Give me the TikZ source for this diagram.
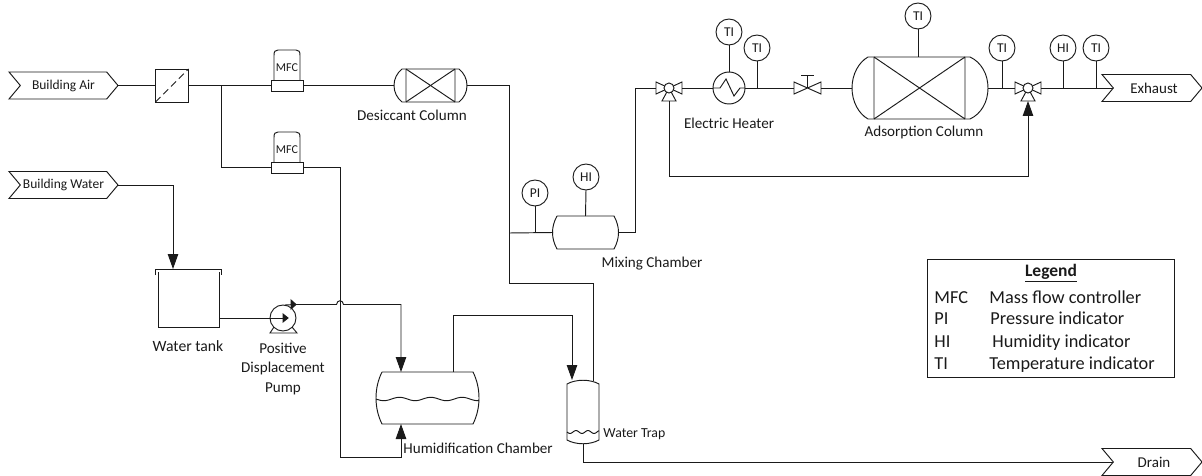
\documentclass[tikz,border=0pt]{standalone}
\usepackage{fontspec}
\setmainfont{Carlito}
\usetikzlibrary{arrows.meta,shapes.symbols}
\definecolor{ink}{HTML}{1A1A1A}
\tikzset{
  x=1pt,y=-1pt,
  every path/.style={line width=0.95pt},
  lbl/.style={text=ink,font=\fontsize{15.1}{17}\selectfont,inner sep=0pt,align=center},
  leg/.style={text=ink,font=\fontsize{18.3}{20}\selectfont,inner sep=0pt,anchor=base west},
  tagbox/.style={draw,shape=signal,signal to=east,signal from=west,signal pointer angle=100,inner sep=0pt,outer sep=0pt,minimum height=27,text=ink,font=\fontsize{13.5}{15}\selectfont},
  inst/.style={draw,circle,fill=white,minimum size=26,inner sep=0pt,outer sep=0pt,text=ink,font=\fontsize{13.5}{15}\selectfont},
  equip/.style={rectangle,inner sep=0pt,outer sep=0pt},
  flow/.style={-{Triangle[length=15,width=10.5]}},
  threeway/.pic={
    \draw (0,0)--(-13,-6)--(-13,6)--cycle;
    \draw (0,0)--(13,-6)--(13,6)--cycle;
    \draw (0,0)--(-7,13)--(7,13)--cycle;
    \draw[fill=white] (0,0) circle[radius=5];
    \coordinate (-w) at (-13,0);
    \coordinate (-e) at (13,0);
    \coordinate (-s) at (0,13);
  },
  mfcunit/.pic={
    \draw (-13,-5.5)--(-13,-30) .. controls (-13,-34) and (-12,-35.5) .. (-9,-35.5)--(9,-35.5) .. controls (12,-35.5) and (13,-34) .. (13,-30)--(13,-5.5);
    \node[equip,draw,fill=white,minimum width=32,minimum height=11] (-base) at (0,0) {};
    \node[lbl,font=\fontsize{12}{14}\selectfont] at (0,-18) {MFC};
  },
}
\begin{document}
\begin{tikzpicture}[color=ink]
\useasboundingbox (0,0) rectangle (1202,476);
% terminals
\node[tagbox,minimum width=109] (bair) at (63.5,85.5) {Building Air};
\node[tagbox,minimum width=109] (bwat) at (63.5,185) {Building Water};
\node[tagbox,minimum width=100,font=\fontsize{15}{17}\selectfont] (exh) at (1152,88) {\hspace{4pt}Exhaust};
\node[tagbox,minimum width=100,font=\fontsize{15}{17}\selectfont] (drn) at (1152,462) {\hspace{4pt}Drain};
% filter
\node[equip,draw,minimum size=33] (filt) at (172,85.5) {};
\draw[dash pattern=on 7pt off 4pt] (filt.south west)--(filt.north east);
% MFCs
\pic (mfca) at (287,85.5) {mfcunit};
\pic (mfcb) at (287,167.5) {mfcunit};
% desiccant column
\node[equip,minimum width=73,minimum height=33] (desc) at (430.5,85.5) {};
\node[lbl] at (412,115) {Desiccant Column};
\draw (402,69)--(459,69) .. controls (464,73) and (467,79) .. (467,85.5) .. controls (467,92) and (464,98) .. (459,102)--(402,102) .. controls (397,98) and (394,92) .. (394,85.5) .. controls (394,79) and (397,73) .. (402,69);
\draw (406,69)--(406,102) (455,69)--(455,102) (406,69)--(455,102) (406,102)--(455,69);
% mixing chamber
\node[equip,minimum width=65,minimum height=33] (mix) at (585.5,232.5) {};
\draw (557,216)--(614,216) .. controls (620,227) and (620,238) .. (614,249)--(557,249) .. controls (551,238) and (551,227) .. (557,216);
\node[lbl] at (652,264) {Mixing Chamber};
% instruments
\node[inst] (pi) at (535,193) {PI};
\node[inst] (hi) at (586,177) {HI};
\node[inst] (tia) at (729,32) {TI};
\node[inst] (tib) at (757,48) {TI};
\node[inst] (tic) at (918,16) {TI};
\node[inst] (tid) at (1002,48) {TI};
\node[inst] (hib) at (1063,48) {HI};
\node[inst] (tie) at (1096,48) {TI};
% valves
\pic (va) at (669,88) {threeway};
\pic (vb) at (1028,88) {threeway};
\node[equip,minimum width=27,minimum height=12] (gate) at (807.5,88) {};
\draw (807.5,88)--(794,82)--(794,94)--cycle (807.5,88)--(821,82)--(821,94)--cycle;
\draw (807.5,88)--(807.5,75) (801,75)--(814,75);
% heater
\node[inst,minimum size=32] (heat) at (729,88) {};
\draw (713,88)--(720,88)--(726,79)--(734,96)--(740,88)--(745,88);
\node[lbl] at (729,123) {Electric Heater};
% adsorption column
\node[equip,minimum width=136,minimum height=62] (ads) at (920,88) {};
\draw (868,57)--(970,57) .. controls (981,62) and (988,74) .. (988,88) .. controls (988,102) and (981,114) .. (970,119)--(868,119) .. controls (859,114) and (852,102) .. (852,88) .. controls (852,74) and (859,62) .. (868,57);
\draw (874,57)--(874,119) (965,57)--(965,119) (874,57)--(965,119) (874,119)--(965,57);
\node[lbl] at (924,132) {Adsorption Column};
% water tank
\node[equip,minimum width=61,minimum height=55] (tank) at (188.5,299.5) {};
\draw (155,275)--(155,269)--(221,269)--(221,275);
\draw (158,272)--(158,327)--(219,327)--(219,272);
\node[lbl,font=\fontsize{15.7}{17}\selectfont] at (188,346) {Water tank};
% pump
\node[inst] (pump) at (283,318) {};
\draw (274,327)--(270,333)--(297,333)--(292,327);
\draw[fill=ink] (283,314)--(288,318)--(283,322)--cycle;
\draw (285,305)--(295,304.5);
\draw[fill=ink] (291,300)--(296,304.5)--(291,309)--cycle;
\coordinate (pout) at (296,304.5);
\node[lbl] at (283,368.5) {Positive\\[2.5pt]Displacement\\[2.5pt]Pump};
% humidification chamber
\node[equip,minimum width=103,minimum height=52] (hum) at (427.5,398) {};
\draw (382,372)--(473,372) .. controls (481,388) and (481,408) .. (473,424)--(382,424) .. controls (374,408) and (374,388) .. (382,372);
\draw plot[domain=376:479,samples=70,smooth] (\x,{399+1.7*sin(11.5*(\x-376))});
\node[lbl,anchor=west] at (403,448) {Humidification Chamber};
% water trap
\node[equip,minimum width=32,minimum height=64] (trap) at (583,412) {};
\draw (567,384) .. controls (576,379) and (590,379) .. (599,384)--(599,440) .. controls (590,445) and (576,445) .. (567,440)--cycle;
\draw plot[domain=567:599,samples=30,smooth] (\x,{432+1.5*sin(30*(\x-567))});
\node[lbl,anchor=west,font=\fontsize{13.8}{15}\selectfont] at (603,434) {Water Trap};
% junctions
\coordinate (ja) at (221,85.5);
\coordinate (jb) at (509,233);
\coordinate (jc) at (535,233);
\coordinate (jd) at (757,88);
\coordinate (je) at (1002,88);
\coordinate (jf) at (1063,88);
\coordinate (jg) at (1096,88);
% connectors
\draw (bair.east)--(filt.west);
\draw (filt.east)--(ja)--(mfca-base.west);
\draw (mfca-base.east)--(desc.west);
\draw (ja)|-(mfcb-base.west);
\draw (desc.east)-|(jb);
\draw (jb)--(mix.west);
\draw (pi.south)--(jc);
\draw (hi.south)--(mix.north);
\draw (mix.east)-|(635,88)--(va-w);
\draw (va-e)--(heat.west);
\draw (heat.east)--(gate.west);
\draw (tia.south)--(heat.north);
\draw (tib.south)--(jd);
\draw (gate.east)--(ads.west);
\draw (tic.south)--(918,57);
\draw (ads.east)--(vb-w);
\draw (tid.south)--(je);
\draw (vb-e)--(exh.west);
\draw (hib.south)--(jf);
\draw (tie.south)--(jg);
\draw[flow] (va-s)|-(1028,176)--(vb-s);
\draw[flow] (bwat.east)-|(173,269);
\draw (219,318)--(pump.center);
\draw[flow] (pout)--(336.5,304.5) .. controls (337,299.5) and (343,299.5) .. (343.5,304.5)-|(401,372);
\draw[flow] (mfcb-base.east)-|(340,457)-|(401,424);
\draw (453,372)|-(572,315);
\draw[flow] (572,315)--(572,380);
\draw (jb)|-(593,283)--(593,380.5);
\draw (583,444)|-(drn.west);
% legend
\node[equip,draw,minimum width=247,minimum height=118] (lgd) at (1050.5,318) {};
\node[leg,anchor=center,font=\fontsize{17.5}{19}\selectfont\bfseries] at (1051,273) {\underline{Legend}};
\node[leg] at (934,303) {MFC};
\node[leg] at (989,303) {Mass flow controller};
\node[leg] at (934,324.5) {PI};
\node[leg] at (990,324.5) {Pressure indicator};
\node[leg] at (934,347) {HI};
\node[leg] at (992,347) {Humidity indicator};
\node[leg] at (934,369) {TI};
\node[leg] at (989,369) {Temperature indicator};
\end{tikzpicture}
\end{document}
